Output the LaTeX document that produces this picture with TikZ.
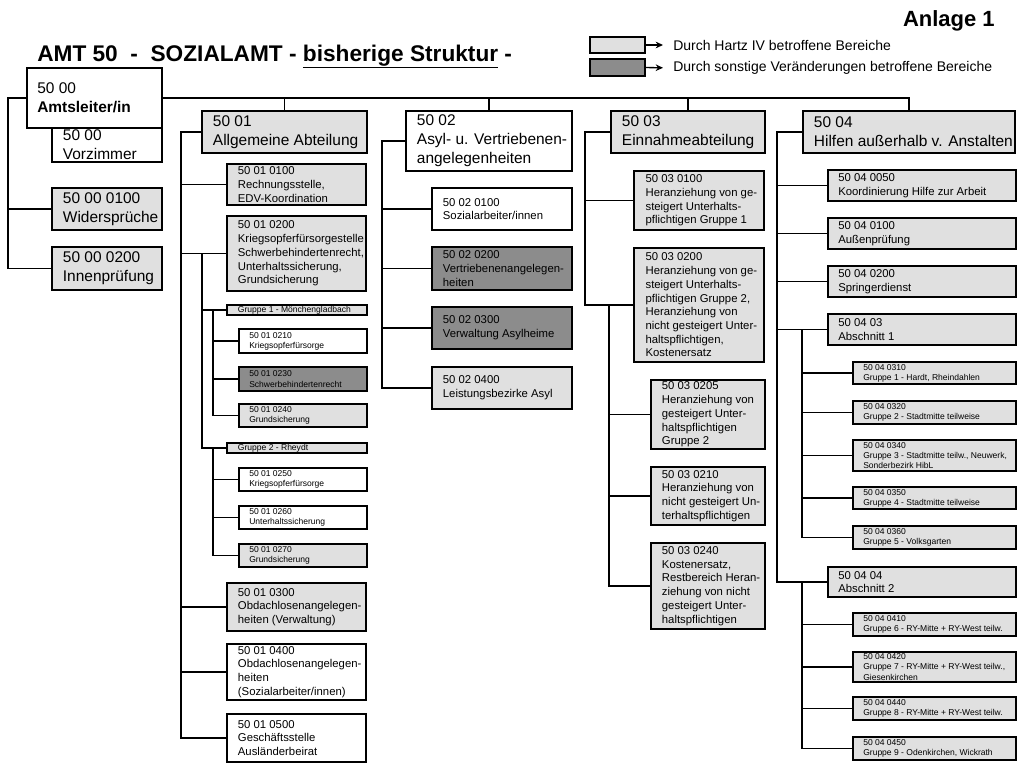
\documentclass[tikz,border=0pt]{standalone}
\usepackage{fontspec}
\setmainfont{Liberation Sans}
\usetikzlibrary{fit,arrows.meta}
\definecolor{light}{RGB}{224,224,224}
\definecolor{dark}{RGB}{140,140,140}
\newcommand\ftitle{\fontsize{17}{20}\selectfont\bfseries}
\newcommand\fanl{\fontsize{16.5}{19}\selectfont\bfseries}
\newcommand\fleg{\fontsize{10.5}{12.5}\selectfont}
\newcommand\fbig{\fontsize{11.6}{14.3}\selectfont}
\newcommand\fmed{\fontsize{8.5}{10.3}\selectfont}
\newcommand\fsml{\fontsize{6.4}{7.6}\selectfont}
\tikzset{
  box/.style={draw=black, line width=1pt, inner sep=0pt, outer sep=0pt},
  hz/.style={fill=light},
  ot/.style={fill=dark},
  wh/.style={fill=white},
  txt/.style={align=left, inner sep=0pt, text=black},
  conn/.style={line width=1.05pt, black},
}
% name, fill, x1, y1, x2, y2, font, pad, text
\newcommand\bx[9]{%
  \node[box,#2,fit={(#3,#4) (#5,#6)}] (#1) {};
  \node[txt,anchor=west,font=#7] (#1-t) at ([xshift=#8]#1.west) {#9};
}
% parent, trunk x, children
\newcommand\tree[3]{%
  \coordinate (#1-tr) at (#2,0);
  \foreach \ch in {#3}{\draw[conn] (#1.west) -- (#1.west -| #1-tr) |- (\ch.west);}
}
\begin{document}
\begin{tikzpicture}[x=0.75pt,y=-0.75pt]
\fill[white] (0,0) rectangle (1024,768);
\useasboundingbox (0,0) rectangle (1024,768);

% title
\node[txt,anchor=base west,font=\ftitle] (title) at (37,61) {AMT 50\ \ -\ \ SOZIALAMT - \underline{bisherige Struktur} -};
\node[txt,anchor=base east,font=\fanl] (anl) at (995,26) {Anlage 1};

% legend
\node[box,hz,fit={(590,37) (645,53)}] (lg1) {};
\node[box,ot,fit={(590,59) (645,76)}] (lg2) {};
\node[txt,anchor=west,font=\fleg] (lt1) at (673,45) {Durch Hartz IV betroffene Bereiche};
\node[txt,anchor=west,font=\fleg] (lt2) at (673,68) {Durch sonstige Veränderungen betroffene Bereiche};
\draw[line width=1pt,-{Stealth[length=5.5pt,width=5pt]},shorten >=7.5pt] (lg1.east) -- (lt1.west);
\draw[line width=1pt,-{Stealth[length=5.5pt,width=5pt]},shorten >=7.5pt] (lg2.east) -- (lt2.west);

% 50 00
\bx{vz}{wh}{52}{128}{162}{162}{\fbig}{8pt}{50 00\\Vorzimmer}
\bx{am}{wh}{27}{68}{162}{128}{\fbig}{7.5pt}{50 00\\\textbf{Amtsleiter/in}}
\bx{wi}{hz}{52}{188}{162}{230}{\fbig}{8pt}{50 00 0100\\Widersprüche}
\bx{ip}{hz}{52}{247}{162}{290}{\fbig}{8pt}{50 00 0200\\Innenprüfung}

% departments
\bx{d01}{hz}{202}{111}{367}{153}{\fbig}{8pt}{50 01\\Allgemeine Abteilung}
\bx{d02}{wh}{406}{111}{572}{171}{\fbig}{8pt}{50 02\\Asyl- u. Vertriebenen-\\angelegenheiten}
\bx{d03}{hz}{611}{111}{765}{153}{\fbig}{8pt}{50 03\\Einnahmeabteilung}
\bx{d04}{hz}{803}{111}{1015}{153}{\fbig}{8pt}{50 04\\Hilfen außerhalb v. Anstalten}

% 50 01
\bx{a0100}{hz}{227}{164}{366}{205}{\fmed}{8pt}{50 01 0100\\Rechnungsstelle,\\EDV-Koordination}
\bx{a0200}{hz}{227}{216}{366}{291}{\fmed}{8pt}{50 01 0200\\Kriegsopferfürsorgestelle\\Schwerbehindertenrecht,\\Unterhaltssicherung,\\Grundsicherung}
\bx{g1}{hz}{227}{305}{367}{315}{\fsml}{8pt}{Gruppe 1 - Mönchengladbach}
\bx{a0210}{wh}{239}{329}{367}{353}{\fsml}{7.5pt}{50 01 0210\\Kriegsopferfürsorge}
\bx{a0230}{ot}{239}{367}{367}{391}{\fsml}{7.5pt}{50 01 0230\\Schwerbehindertenrecht}
\bx{a0240}{hz}{239}{404}{367}{427}{\fsml}{7.5pt}{50 01 0240\\Grundsicherung}
\bx{g2}{hz}{227}{443}{367}{453}{\fsml}{8pt}{Gruppe 2 - Rheydt}
\bx{a0250}{wh}{239}{468}{367}{491}{\fsml}{7.5pt}{50 01 0250\\Kriegsopferfürsorge}
\bx{a0260}{wh}{239}{506}{367}{529}{\fsml}{7.5pt}{50 01 0260\\Unterhaltssicherung}
\bx{a0270}{hz}{239}{544}{367}{567}{\fsml}{7.5pt}{50 01 0270\\Grundsicherung}
\bx{a0300}{hz}{227}{583}{366}{631}{\fmed}{8pt}{50 01 0300\\Obdachlosenangelegen-\\heiten (Verwaltung)}
\bx{a0400}{wh}{227}{644}{366}{700}{\fmed}{8pt}{50 01 0400\\Obdachlosenangelegen-\\heiten\\(Sozialarbeiter/innen)}
\bx{a0500}{wh}{227}{714}{366}{762}{\fmed}{8pt}{50 01 0500\\Geschäftsstelle\\Ausländerbeirat}

% 50 02
\bx{b0100}{wh}{432}{188}{572}{230}{\fmed}{8pt}{50 02 0100\\Sozialarbeiter/innen}
\bx{b0200}{ot}{432}{247}{572}{290}{\fmed}{8pt}{50 02 0200\\Vertriebenenangelegen-\\heiten}
\bx{b0300}{ot}{432}{307}{572}{349}{\fmed}{8pt}{50 02 0300\\Verwaltung Asylheime}
\bx{b0400}{hz}{432}{367}{572}{409}{\fmed}{8pt}{50 02 0400\\Leistungsbezirke Asyl}

% 50 03
\bx{c0100}{hz}{634}{171}{764}{230}{\fmed}{8.5pt}{50 03 0100\\Heranziehung von ge-\\steigert Unterhalts-\\pflichtigen Gruppe 1}
\bx{c0200}{hz}{634}{248}{764}{362}{\fmed}{8.5pt}{50 03 0200\\Heranziehung von ge-\\steigert Unterhalts-\\pflichtigen Gruppe 2,\\Heranziehung von\\nicht gesteigert Unter-\\haltspflichtigen,\\Kostenersatz}
\bx{c0205}{hz}{651}{380}{765}{449}{\fmed}{8pt}{50 03 0205\\Heranziehung von\\gesteigert Unter-\\haltspflichtigen\\Gruppe 2}
\bx{c0210}{hz}{651}{467}{765}{525}{\fmed}{8pt}{50 03 0210\\Heranziehung von\\nicht gesteigert Un-\\terhaltspflichtigen}
\bx{c0240}{hz}{651}{543}{765}{629}{\fmed}{8pt}{50 03 0240\\Kostenersatz,\\Restbereich Heran-\\ziehung von nicht\\gesteigert Unter-\\haltspflichtigen}

% 50 04
\bx{e0050}{hz}{828}{170}{1016}{201}{\fmed}{7.5pt}{50 04 0050\\Koordinierung Hilfe zur Arbeit}
\bx{e0100}{hz}{828}{218}{1016}{249}{\fmed}{7.5pt}{50 04 0100\\Außenprüfung}
\bx{e0200}{hz}{828}{266}{1016}{297}{\fmed}{7.5pt}{50 04 0200\\Springerdienst}
\bx{e03}{hz}{828}{314}{1016}{345}{\fmed}{7.5pt}{50 04 03\\Abschnitt 1}
\bx{e0310}{hz}{853}{362}{1016}{384}{\fsml}{7.5pt}{50 04 0310\\Gruppe 1 - Hardt, Rheindahlen}
\bx{e0320}{hz}{853}{401}{1016}{424}{\fsml}{7.5pt}{50 04 0320\\Gruppe 2 - Stadtmitte teilweise}
\bx{e0340}{hz}{853}{440}{1016}{471}{\fsml}{7.5pt}{50 04 0340\\Gruppe 3 - Stadtmitte teilw., Neuwerk,\\Sonderbezirk HibL}
\bx{e0350}{hz}{853}{487}{1016}{509}{\fsml}{7.5pt}{50 04 0350\\Gruppe 4 - Stadtmitte teilweise}
\bx{e0360}{hz}{853}{526}{1016}{549}{\fsml}{7.5pt}{50 04 0360\\Gruppe 5 - Volksgarten}
\bx{e04}{hz}{828}{567}{1016}{597}{\fmed}{7.5pt}{50 04 04\\Abschnitt 2}
\bx{e0410}{hz}{853}{613}{1016}{636}{\fsml}{7.5pt}{50 04 0410\\Gruppe 6 - RY-Mitte + RY-West teilw.}
\bx{e0420}{hz}{853}{652}{1016}{682}{\fsml}{7.5pt}{50 04 0420\\Gruppe 7 - RY-Mitte + RY-West teilw.,\\Giesenkirchen}
\bx{e0440}{hz}{853}{697}{1016}{720}{\fsml}{7.5pt}{50 04 0440\\Gruppe 8 - RY-Mitte + RY-West teilw.}
\bx{e0450}{hz}{853}{737}{1016}{760}{\fsml}{7.5pt}{50 04 0450\\Gruppe 9 - Odenkirchen, Wickrath}

% connectors
\draw[conn] (am.east) -| (d04.north);
\foreach \d in {d01,d02,d03}{\draw[conn] (\d.north) -- (\d.north |- am.east);}
\tree{am}{8}{wi,ip}
\tree{d01}{181}{a0100,a0200,a0300,a0400,a0500}
\tree{a0200}{202}{g1,g2}
\tree{g1}{213}{a0210,a0230,a0240}
\tree{g2}{213}{a0250,a0260,a0270}
\tree{d02}{382}{b0100,b0200,b0300,b0400}
\tree{d03}{585}{c0100,c0200}
\tree{c0200}{609}{c0205,c0210,c0240}
\tree{d04}{777}{e0050,e0100,e0200,e03,e04}
\tree{e03}{802}{e0310,e0320,e0340,e0350,e0360}
\tree{e04}{802}{e0410,e0420,e0440,e0450}
\end{tikzpicture}
\end{document}
